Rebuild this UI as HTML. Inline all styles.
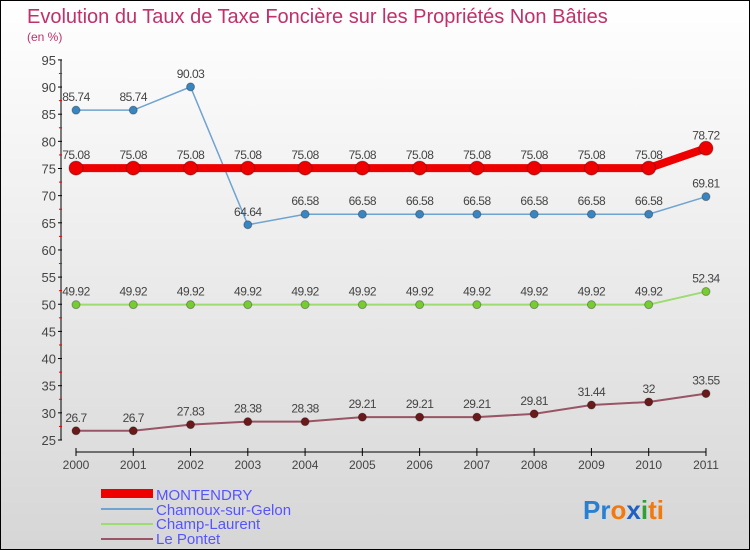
<!DOCTYPE html>
<html><head><meta charset="utf-8"><style>
body{margin:0}
#wrap{position:relative;width:748px;height:548px;border:1px solid #000;background:linear-gradient(#fff,#f3f3f3 30%,#d6d6d6);font-family:"Liberation Sans",sans-serif;overflow:hidden}
svg text{font-family:"Liberation Sans",sans-serif}
</style></head><body>
<div id="wrap">
<svg id="chart" width="748" height="548">
<text x="26" y="22" font-size="20" fill="#c0306a">Evolution du Taux de Taxe Foncière sur les Propriétés Non Bâties</text>
<text x="26" y="40" font-size="12" fill="#c0306a">(en %)</text>
<g id="axes"></g><g id="series"></g>
<g>
<rect x="100" y="488" width="52" height="9" fill="#e00"/>
<text x="155" y="499" font-size="15" fill="#55f">MONTENDRY</text>
<line x1="100" y1="508" x2="152" y2="508" stroke="#6fa3d0" stroke-width="2"/>
<text x="155" y="514" font-size="15" fill="#55f">Chamoux-sur-Gelon</text>
<line x1="100" y1="523" x2="152" y2="523" stroke="#9cdc70" stroke-width="2"/>
<text x="155" y="528" font-size="15" fill="#55f">Champ-Laurent</text>
<line x1="100" y1="538" x2="152" y2="538" stroke="#956" stroke-width="2"/>
<text x="155" y="543" font-size="15" fill="#55f">Le Pontet</text>
</g>
<text x="582" y="518" font-size="26" font-weight="bold"><tspan fill="#2a7fd0">Pr</tspan><tspan fill="#f07a10">o</tspan><tspan fill="#2060c0">x</tspan><tspan fill="#30a030">i</tspan><tspan fill="#f07a10">ti</tspan></text>
</svg>
</div>
<script>
const years=[2000,2001,2002,2003,2004,2005,2006,2007,2008,2009,2010,2011];
const montendry=[75.08,75.08,75.08,75.08,75.08,75.08,75.08,75.08,75.08,75.08,75.08,78.72];
const chamoux=[85.74,85.74,90.03,64.64,66.58,66.58,66.58,66.58,66.58,66.58,66.58,69.81];
const champLaurent=[49.92,49.92,49.92,49.92,49.92,49.92,49.92,49.92,49.92,49.92,49.92,52.34];
const lePontet=[26.7,26.7,27.83,28.38,28.38,29.21,29.21,29.21,29.81,31.44,32,33.55];
const yTicks=[25,30,35,40,45,50,55,60,65,70,75,80,85,90,95];
const NS="http://www.w3.org/2000/svg";
const X=i=>75+i*57.27, Y=v=>439-(v-25)*5.43;
function mk(p,tag,a){const e=document.createElementNS(NS,tag);for(const k in a)e.setAttribute(k,a[k]);p.appendChild(e);return e;}
const ax=document.getElementById('axes'), sg=document.getElementById('series');
let e=mk(ax,'line',{x1:60,y1:Y(95),x2:60,y2:Y(25),stroke:'#000'});


e=mk(ax,'line',{x1:75,y1:451,x2:X(11),y2:451,stroke:'#000'});


yTicks.forEach(v=>{
 mk(ax,'line',{x1:57,y1:Y(v),x2:61,y2:Y(v),stroke:'#000'});
 if(v<95)mk(ax,'line',{x1:58,y1:Y(v+2.5),x2:61,y2:Y(v+2.5),stroke:'#e00'});
 const t=mk(ax,'text',{x:55,y:Y(v)+5,'font-size':13,fill:'#444','text-anchor':'end'});t.textContent=v;
 
 
});
years.forEach((y,i)=>{
 mk(ax,'line',{x1:X(i),y1:447,x2:X(i),y2:455,stroke:'#000'});
 const t=mk(ax,'text',{x:X(i),y:468,'font-size':12,fill:'#444','text-anchor':'middle'});t.textContent=y;
 
 
});
function series(data,name,col,lw,r,dot){
 const g=mk(sg,'g',{});
 
 
 mk(g,'polyline',{points:data.map((v,i)=>X(i)+','+Y(v)).join(' '),fill:'none',stroke:col,'stroke-width':lw});
 data.forEach((v,i)=>{
  const c=mk(g,'circle',{cx:X(i),cy:Y(v),r:r,fill:dot,stroke:'rgba(0,0,0,0.3)'});
  
  
  const t=mk(g,'text',{x:X(i),y:Y(v)-9,'font-size':12,fill:'#444','text-anchor':'middle','letter-spacing':'-0.5'});t.textContent=v;
  
  
 });
}
series(lePontet,'le-pontet','#956',2,4,'#6a1a1a');
series(champLaurent,'champ-laurent','#9cdc70',2,4,'#7c3');
series(chamoux,'chamoux','#6fa3d0',1.5,4,'#3a85c0');
series(montendry,'montendry','#e00',8,7,'#e00');
</script>
</body></html>
